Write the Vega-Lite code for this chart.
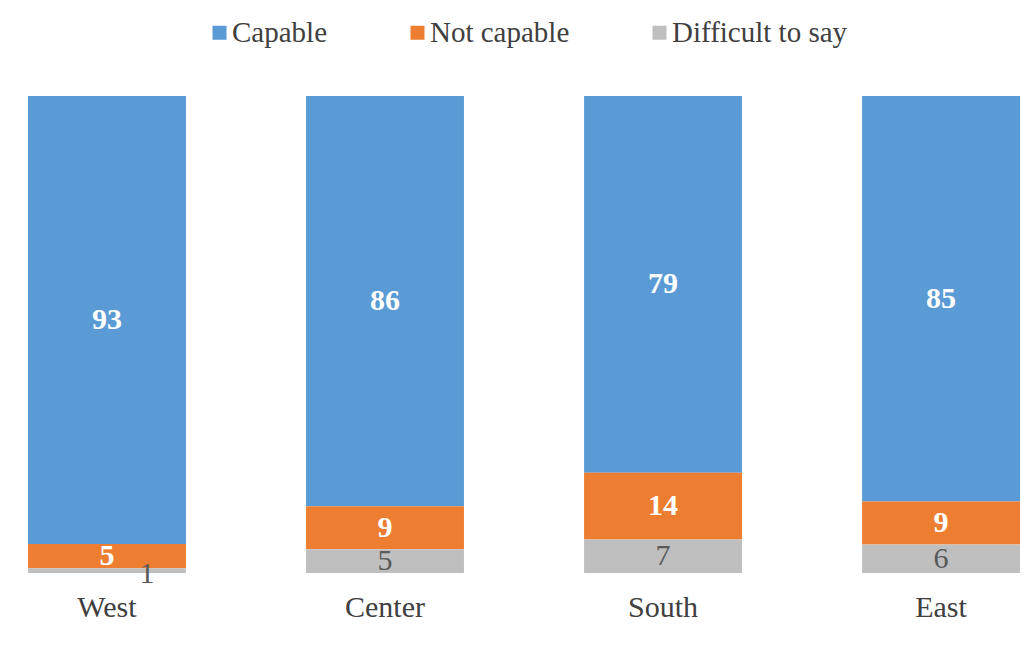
{
  "$schema": "https://vega.github.io/schema/vega-lite/v6.json",
  "width": 1034,
  "height": 477,
  "autosize": {"type": "none"},
  "padding": {"top": 96, "left": 0, "right": 0, "bottom": 92},
  "background": "white",
  "config": {"view": {"stroke": null}, "font": "Liberation Serif"},
  "data": {
    "values": [
      {"region": "West", "answer": "Capable", "rank": 3, "value": 93},
      {"region": "West", "answer": "Not capable", "rank": 2, "value": 5},
      {"region": "West", "answer": "Difficult to say", "rank": 1, "value": 1},
      {"region": "Center", "answer": "Capable", "rank": 3, "value": 86},
      {"region": "Center", "answer": "Not capable", "rank": 2, "value": 9},
      {"region": "Center", "answer": "Difficult to say", "rank": 1, "value": 5},
      {"region": "South", "answer": "Capable", "rank": 3, "value": 79},
      {"region": "South", "answer": "Not capable", "rank": 2, "value": 14},
      {"region": "South", "answer": "Difficult to say", "rank": 1, "value": 7},
      {"region": "East", "answer": "Capable", "rank": 3, "value": 85},
      {"region": "East", "answer": "Not capable", "rank": 2, "value": 9},
      {"region": "East", "answer": "Difficult to say", "rank": 1, "value": 6}
    ]
  },
  "encoding": {
    "x": {
      "field": "region",
      "type": "nominal",
      "sort": ["West", "Center", "South", "East"],
      "scale": {"paddingInner": 0.432, "paddingOuter": 0.0755, "align": 0.667},
      "axis": {
        "title": null,
        "domain": false,
        "ticks": false,
        "labelAngle": 0,
        "labelFont": "Liberation Serif",
        "labelFontSize": 30,
        "labelColor": "#404040",
        "labelPadding": 19
      }
    },
    "y": {
      "field": "value",
      "type": "quantitative",
      "stack": "normalize",
      "axis": null
    },
    "order": {"field": "rank", "type": "quantitative"}
  },
  "layer": [
    {
      "mark": {"type": "bar"},
      "encoding": {
        "color": {
          "field": "answer",
          "type": "nominal",
          "scale": {
            "domain": ["Capable", "Not capable", "Difficult to say"],
            "range": ["#5B9BD5", "#ED7D31", "#BFBFBF"]
          },
          "legend": {
            "title": null,
            "orient": "none",
            "direction": "horizontal",
            "legendX": 205,
            "legendY": -78,
            "symbolType": "square",
            "symbolSize": 196,
            "symbolStrokeWidth": 0,
            "labelFont": "Liberation Serif",
            "labelFontSize": 29,
            "labelColor": "#404040",
            "labelOffset": -2,
            "labelLimit": 400,
            "columnPadding": 75,
            "padding": 0
          }
        }
      }
    },
    {
      "mark": {"type": "text", "font": "Liberation Serif", "fontSize": 30, "fontWeight": "bold", "color": "white"},
      "encoding": {
        "y": {"field": "value", "type": "quantitative", "stack": "normalize", "bandPosition": 0.5},
        "text": {
          "condition": {"test": "datum.answer !== 'Difficult to say'", "field": "value"},
          "value": ""
        }
      }
    },
    {
      "mark": {"type": "text", "font": "Liberation Serif", "fontSize": 30, "color": "#595959"},
      "encoding": {
        "y": {"field": "value", "type": "quantitative", "stack": "normalize", "bandPosition": 0.5},
        "text": {
          "condition": {"test": "datum.answer === 'Difficult to say' && datum.value >= 2", "field": "value"},
          "value": ""
        }
      }
    },
    {
      "mark": {"type": "text", "font": "Liberation Serif", "fontSize": 30, "color": "#595959", "dx": 40, "dy": 3},
      "encoding": {
        "y": {"field": "value", "type": "quantitative", "stack": "normalize", "bandPosition": 0.5},
        "text": {
          "condition": {"test": "datum.answer === 'Difficult to say' && datum.value < 2", "field": "value"},
          "value": ""
        }
      }
    }
  ]
}
